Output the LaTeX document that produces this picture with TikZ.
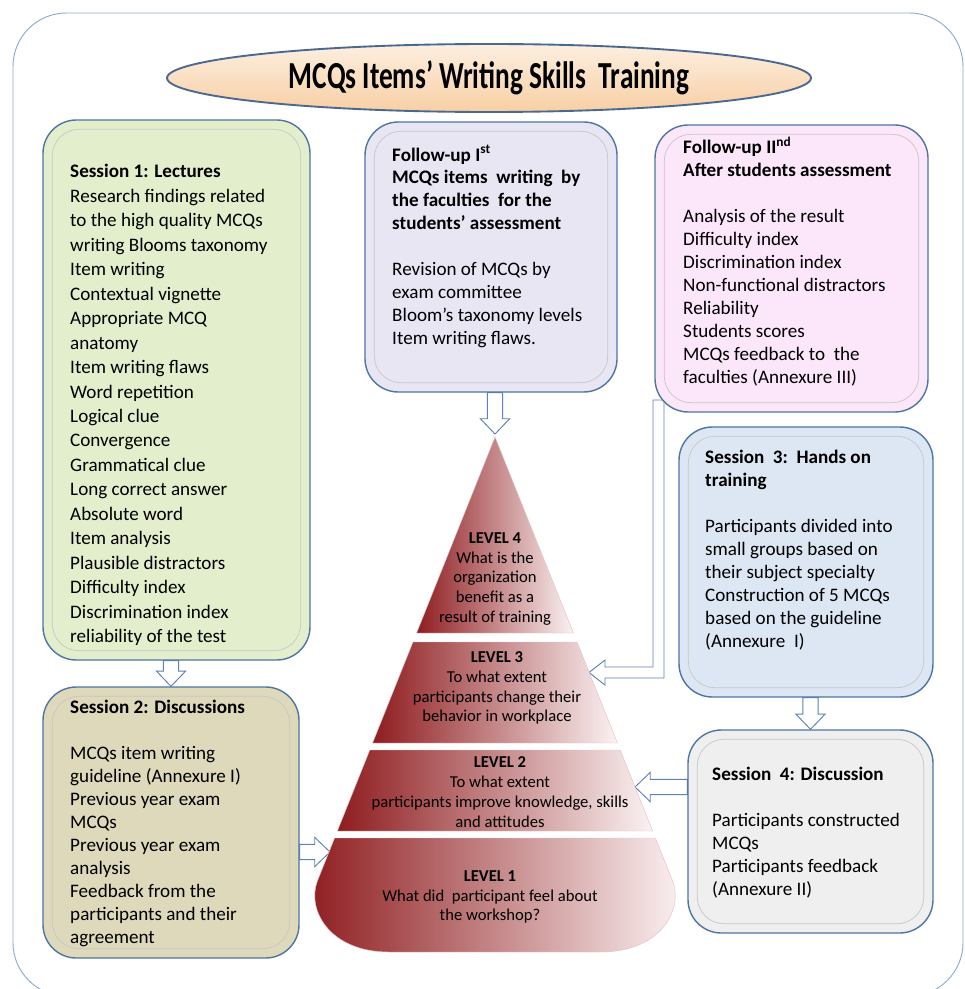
\documentclass[tikz,border=0pt]{standalone}
\usepackage{fontspec}
\setmainfont{Carlito}
\usetikzlibrary{calc,fit,shapes.geometric}

\definecolor{framecol}{HTML}{8EA9CB}
\definecolor{titlefill}{HTML}{F7CFA4}
\definecolor{titlelight}{HTML}{FDEFE0}
\definecolor{titleedge}{HTML}{4A6891}
\definecolor{boxedge}{HTML}{4F75A3}
\definecolor{lecfill}{HTML}{E3EFCC}
\definecolor{discfill}{HTML}{DDD9BA}
\definecolor{fuponefill}{HTML}{E9E6F4}
\definecolor{fuptwofill}{HTML}{FCE6FA}
\definecolor{handsfill}{HTML}{DDE7F4}
\definecolor{discfourfill}{HTML}{EFEFEF}
\definecolor{arrowedge}{HTML}{5E82B2}
\definecolor{pyrdark}{HTML}{8E1C1F}
\definecolor{pyrmid}{HTML}{D49A9C}
\definecolor{pyrlight}{HTML}{FBF2F2}

\pgfdeclarelayer{back}
\pgfsetlayers{back,main}

\newcommand\pu{0.3mm}
% hollow block arrow from #1 to #2
\newcommand\blockarrow[2]{%
  \coordinate (ba-neck) at ($(#2)!13pt!(#1)$);
  \draw[blockarr] ($(#1)!6.5pt!90:(#2)$) -- ($(ba-neck)!6.5pt!-90:(#1)$)
    -- ($(ba-neck)!12.5pt!-90:(#1)$) -- (#2) -- ($(ba-neck)!12.5pt!90:(#1)$)
    -- ($(ba-neck)!6.5pt!90:(#1)$) -- ($(#1)!6.5pt!-90:(#2)$) -- cycle;}

\begin{document}
\begin{tikzpicture}[x=0.3mm,y=-0.3mm,
    box/.style={draw=boxedge,line width=1.2pt,rounded corners=10mm,inner sep=0pt},
    bevel/.style={draw=black!22,line width=0.6pt,rounded corners=8mm},
    txt/.style={anchor=north west,align=left,inner sep=0pt,font=\fontsize{16.3}{19.6}\selectfont},
    lvl/.style={align=center,inner sep=0pt,font=\fontsize{14.2}{17}\selectfont},
    pyr/.style={left color=pyrdark,middle color=pyrmid,right color=pyrlight,draw=pyrmid!60,line width=0.4pt},
    blockarr/.style={draw=arrowedge,fill=white,line width=0.8pt,line join=miter},
    titleell/.style={ellipse,draw=titleedge,line width=1.6pt,top color=titlelight,bottom color=titlefill,
      minimum width=644*\pu,minimum height=68*\pu,inner sep=0pt,font=\fontsize{23.3}{28}\selectfont\bfseries}]

  \useasboundingbox (0,0) rectangle (965,989);
  \draw[framecol,line width=0.8pt,rounded corners=16mm] (13,13) rectangle (963,996);

  \node[titleell] (title) at (489,78) {\scalebox{1}[1.4]{MCQs Items’ Writing Skills\ \ Training}};

  % boxes
  \node[box,fill=lecfill,fit={(43,120) (310,660)}] (lect) {};
  \node[box,fill=discfill,fit={(43,687) (299,958)}] (disc) {};
  \node[box,fill=fuponefill,fit={(365,122) (617,392)}] (fupone) {};
  \node[box,fill=fuptwofill,fit={(655,125) (928,412)}] (fuptwo) {};
  \node[box,fill=handsfill,fit={(679,427) (933,697)}] (hands) {};
  \node[box,fill=discfourfill,fit={(688,730) (933,933)}] (discfour) {};
  \foreach \b in {lect,disc,fupone,fuptwo,hands,discfour}
    \draw[bevel] ([shift={(3mm,-3mm)}]\b.north west) rectangle ([shift={(-3mm,3mm)}]\b.south east);

  \node[txt,font=\fontsize{16.3}{20.9}\selectfont] (lecttxt) at (70,164) {\textbf{Session 1: Lectures}\\Research findings related\\to the high quality MCQs\\writing Blooms taxonomy\\Item writing\\Contextual vignette\\Appropriate MCQ\\anatomy\\Item writing flaws\\Word repetition\\Logical clue\\Convergence\\Grammatical clue\\Long correct answer\\Absolute word\\Item analysis\\Plausible distractors\\Difficulty index\\Discrimination index\\reliability of the test};
  \node[txt] (disctxt) at (70,700) {\textbf{Session 2: Discussions}\\[19.6pt]MCQs item writing\\guideline (Annexure I)\\Previous year exam\\MCQs\\Previous year exam\\analysis\\Feedback from the\\participants and their\\agreement};
  \node[txt] (fuponetxt) at (392,145) {\textbf{Follow-up I\textsuperscript{st}}\\\textbf{MCQs items\ \ writing\ \ by}\\\textbf{the faculties\ \ for the}\\\textbf{students’ assessment}\\[19.6pt]Revision of MCQs by\\exam committee\\Bloom’s taxonomy levels\\Item writing flaws.};
  \node[txt] (fuptwotxt) at (683,137) {\textbf{Follow-up II\textsuperscript{nd}}\\\textbf{After students assessment}\\[19.6pt]Analysis of the result\\Difficulty index\\Discrimination index\\Non-functional distractors\\Reliability\\Students scores\\MCQs feedback to\ \ the\\faculties (Annexure III)};
  \node[txt] (handstxt) at (705,450) {\textbf{Session\ \ 3:\ \ Hands on}\\\textbf{training}\\[19.6pt]Participants divided into\\small groups based on\\their subject specialty\\Construction of 5 MCQs\\based on the guideline\\(Annexure\ \ I)};
  \node[txt] (discfourtxt) at (712,767) {\textbf{Session\ \ 4: Discussion}\\[19.6pt]Participants constructed\\MCQs\\Participants feedback\\(Annexure II)};

  % pyramid
  \coordinate (apex) at (495,437);
  \shade[pyr] (apex) -- (573.4,633) -- (416.6,633) -- cycle;
  \shade[pyr] (413,642) -- (577,642) -- (617.4,743) -- (372.6,743) -- cycle;
  \shade[pyr] (369.8,750) -- (620.2,750) -- (652.6,831) -- (337.4,831) -- cycle;
  \shade[pyr] (334.6,838) -- (655.4,838) -- (672.2,880) .. controls (684.2,910) and (660,952) .. (601,952)
    -- (389,952) .. controls (330,952) and (305.8,910) .. (317.8,880) -- cycle;

  \node[lvl] (lvlfour) at (495,579) {\textbf{LEVEL 4}\\What is the\\organization\\benefit as a\\result of training};
  \node[lvl] (lvlthreetxt) at (497,688) {\textbf{LEVEL 3}\\To what extent\\participants change their\\behavior in workplace};
  \node[lvl] (lvltwotxt) at (500,792) {\textbf{LEVEL 2}\\To what extent\\participants improve knowledge, skills\\and attitudes};
  \node[lvl] (lvlonetxt) at (490,897) {\textbf{LEVEL 1}\\What did\ \ participant feel about\\the workshop?};

  % arrows
  \coordinate (apextip) at (495,434);
  \coordinate (lvlone) at (330,852);
  \coordinate (lvltwo) at (635,787);
  \coordinate (lvlthree) at (589,672.5);
  \coordinate (fuptwofoot) at (658.5,400);
  \begin{pgfonlayer}{back}
    \coordinate (a1) at (disc.north |- lect.south);
    \blockarrow{a1}{disc.north}
    \coordinate (a2) at (apextip |- fupone.south);
    \blockarrow{a2}{apextip}
    \coordinate (a3) at (discfour.north |- hands.south);
    \blockarrow{a3}{discfour.north}
    \coordinate (a4) at (disc.east |- lvlone);
    \blockarrow{a4}{lvlone}
    \coordinate (a5) at (discfour.west |- lvltwo);
    \blockarrow{a5}{lvltwo}
    \coordinate (bend) at (fuptwofoot |- lvlthree);
    \draw[blockarr] ([xshift=-5.5*\pu]fuptwofoot) -- ([xshift=5.5*\pu]fuptwofoot) -- ([shift={(5.5,5.5)}]bend)
      -- ([shift={(16,5.5)}]lvlthree) -- ([shift={(16,12.5)}]lvlthree) -- (lvlthree) -- ([shift={(16,-12.5)}]lvlthree)
      -- ([shift={(16,-5.5)}]lvlthree) -- ([shift={(-5.5,-5.5)}]bend) -- cycle;
  \end{pgfonlayer}
\end{tikzpicture}
\end{document}
